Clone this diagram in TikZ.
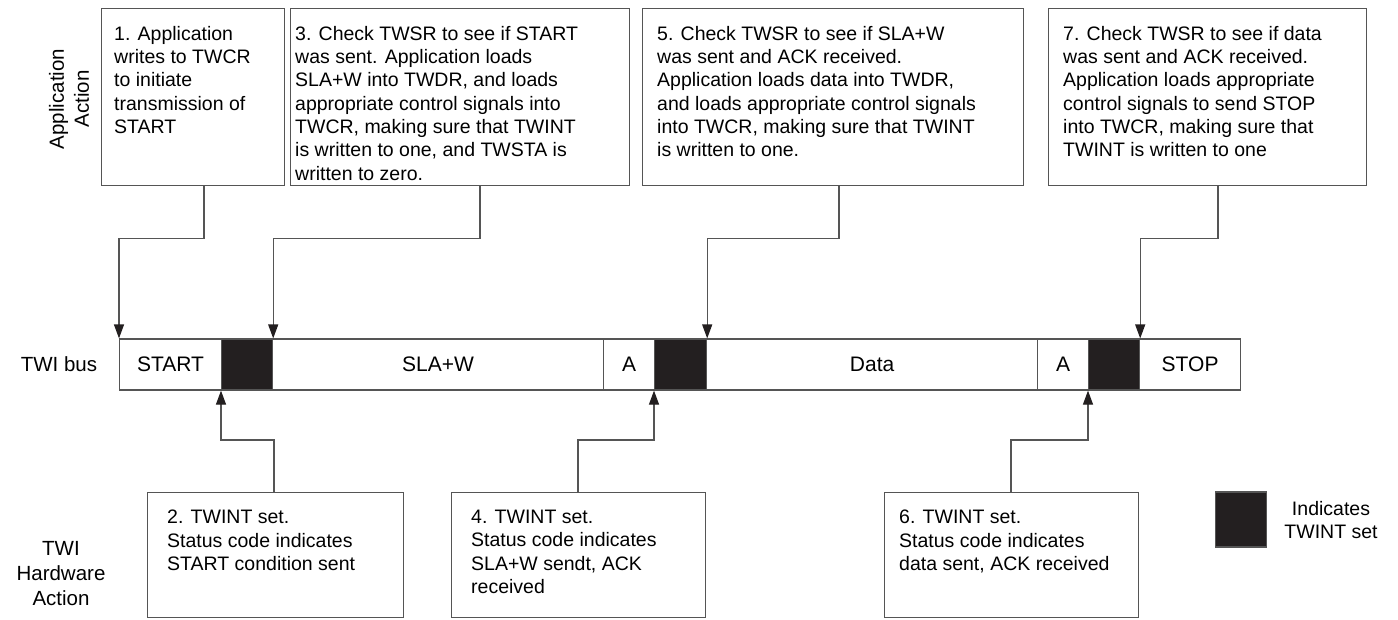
\documentclass[tikz,border=0pt]{standalone}
\usepackage{fontspec}
\setmainfont{Liberation Sans}
\usetikzlibrary{arrows.meta,calc}
\definecolor{ln}{RGB}{85,85,85}
\definecolor{blk}{RGB}{35,31,32}
\begin{document}
\begin{tikzpicture}[x=1pt,y=-1pt,
  every node/.style={font=\fontsize{19.5}{23.3}\selectfont, text=black},
  box/.style={draw=ln, line width=1.2pt, anchor=north west, inner sep=0},
  txt/.style={anchor=north west, inner sep=0, align=left},
  cell/.style={draw=ln, line width=1.2pt, anchor=west, minimum height=51pt, inner sep=0, font=\fontsize{21}{25}\selectfont},
  twint/.style={cell, fill=blk},
  conn/.style={draw=ln, line width=1.2pt},
  arr/.style={conn, -{Triangle[length=14pt,width=10pt,color=blk]}},
  side/.style={align=center, inner sep=0, font=\fontsize{20.5}{25}\selectfont}]
\useasboundingbox (0,0) rectangle (1398,619);

% top boxes
\node[box, minimum width=183pt, minimum height=177pt] (b1) at (101,8) {};
\node[box, minimum width=339pt, minimum height=177pt] (b3) at (290,8) {};
\node[box, minimum width=381pt, minimum height=177pt] (b5) at (642,8) {};
\node[box, minimum width=318pt, minimum height=177pt] (b7) at (1048,8) {};
\node[txt] (t1) at ($(b1.north west)+(13,18)$) {1. Application\\writes to TWCR\\to initiate\\transmission of\\START};
\node[txt] (t3) at ($(b3.north west)+(5,18)$) {3. Check TWSR to see if START\\was sent. Application loads\\SLA+W into TWDR, and loads\\appropriate control signals into\\TWCR, making sure that TWINT\\is written to one, and TWSTA is\\written to zero.};
\node[txt] (t5) at ($(b5.north west)+(15,18)$) {5. Check TWSR to see if SLA+W\\was sent and ACK received.\\Application loads data into TWDR,\\and loads appropriate control signals\\into TWCR, making sure that TWINT\\is written to one.};
\node[txt] (t7) at ($(b7.north west)+(15,18)$) {7. Check TWSR to see if data\\was sent and ACK received.\\Application loads appropriate\\control signals to send STOP\\into TWCR, making sure that\\TWINT is written to one};

% bottom boxes
\node[box, minimum width=256pt, minimum height=125pt] (b2) at (147,492) {};
\node[box, minimum width=254pt, minimum height=125pt] (b4) at (451,492) {};
\node[box, minimum width=254pt, minimum height=125pt] (b6) at (884,492) {};
\node[txt] (t2) at ($(b2.north west)+(20,18)$) {2. TWINT set.\\Status code indicates\\START condition sent};
\node[txt] (t4) at ($(b4.north west)+(20,18)$) {4. TWINT set.\\Status code indicates\\SLA+W sendt, ACK\\received};
\node[txt] (t6) at ($(b6.north west)+(15,18)$) {6. TWINT set.\\Status code indicates\\data sent, ACK received};

% bus
\node[cell, minimum width=102pt] (start) at (119,364.5) {START};
\node[twint, minimum width=51pt] (k1) at (221,364.5) {};
\node[cell, minimum width=331pt] (slaw) at (272,364.5) {SLA+W};
\node[cell, minimum width=51pt] (a1) at (603,364.5) {A};
\node[twint, minimum width=52pt] (k2) at (654,364.5) {};
\node[cell, minimum width=331pt] (data) at (706,364.5) {Data};
\node[cell, minimum width=51pt] (a2) at (1037,364.5) {A};
\node[twint, minimum width=51pt] (k3) at (1088,364.5) {};
\node[cell, minimum width=101pt] (stop) at (1139,364.5) {STOP};

% connectors from top
\draw[arr] ([xshift=103pt]b1.south west) -- ++(0,52) -| (start.north west);
\draw[arr] ([xshift=190pt]b3.south west) -- ++(0,52) -| (k1.north east);
\draw[arr] ([xshift=197pt]b5.south west) -- ++(0,52) -| (k2.north east);
\draw[arr] ([xshift=170pt]b7.south west) -- ++(0,52) -| (k3.north east);
% connectors from bottom
\draw[arr] ([xshift=127pt]b2.north west) -- ++(0,-52) -| (k1.south west);
\draw[arr] ([xshift=127pt]b4.north west) -- ++(0,-52) -| (k2.south west);
\draw[arr] ([xshift=127pt]b6.north west) -- ++(0,-52) -| (k3.south west);

% legend
\node[draw=ln, line width=1.2pt, fill=blk, minimum width=51pt, minimum height=55pt, inner sep=0] (leg) at (1241,519.5) {};
\node[align=center, inner sep=0] (legt) at (1331,520) {Indicates\\TWINT set};

% side labels
\node[side, rotate=90] (lapp) at (69,99) {Application\\Action};
\node[side] (lbus) at (59,364.5) {TWI bus};
\node[side] (lhw) at (61,574) {TWI\\Hardware\\Action};
\end{tikzpicture}
\end{document}
